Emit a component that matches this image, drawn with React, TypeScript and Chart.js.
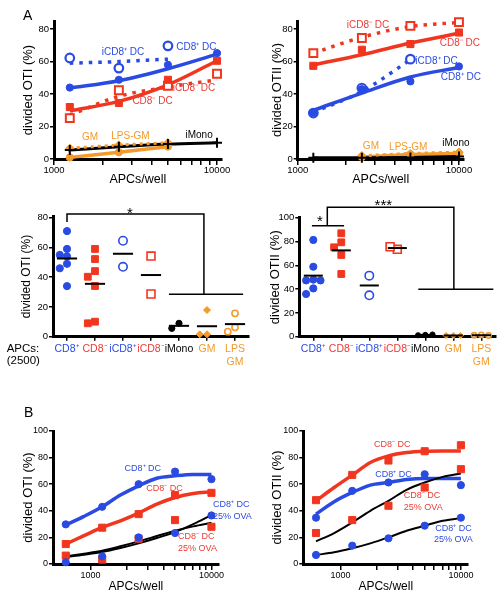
import React, { useEffect, useRef } from "react";
import { Chart, registerables } from "chart.js";
Chart.register(...registerables);

const W = 504, H = 600;
const FONT = "'Liberation Sans', Arial, Helvetica, sans-serif";
const BLUE = "#2a4be2", RED = "#f1361f", RED_T = "#ea3b36", ORANGE = "#f39a2c", BLACK = "#000000";

// ---------- Panel A (top): dose response, x = APCs/well ----------
const apcA = [1250, 2500, 5000, 10000];
const apcA3 = [1250, 2500, 5000];
const apcAgm = [2500, 5000, 10000];
const logTickValues = [1000, 2000, 3000, 4000, 5000, 6000, 7000, 8000, 9000, 10000];
const logLabelValues = [1000, 10000];

const oti_CD8p = [44, 48.8, 58, 65.2];
const oti_CD8p_fit = [43.7, 48.2, 55.6, 64.6];
const oti_CD8n = [32, 34.5, 48.8, 60.5];
const oti_CD8n_fit = [29.7, 35.5, 45.7, 60.5];
const oti_iCD8p = [62.2, 56, 69.7];
const oti_iCD8p_fit = [59, 60, 61.5];
const oti_iCD8n = [25.2, 42.3, 45.1, 52.5];
const oti_iCD8n_fit = [27, 38.6, 44.3, 48.8];
const oti_iMono = [5.5, 7.5, 9.2, 10];
const oti_GM = [1, 4.1, 7.6];
const oti_LPSGM = [6.6, 8.6, 10];

const otii_CD8n = [57.4, 67.3, 70.8, 77.9];
const otii_CD8n_fit = [58, 64.2, 71.4, 77.5];
const otii_iCD8n = [65.2, 74.5, 82, 84.3];
const otii_iCD8n_fit = [65.2, 75, 81.6, 84.1];
const otii_CD8p = [28.7, 43, 47.8, 57];
const otii_CD8p_fit = [30, 40.6, 50.5, 56.4];
const otii_iCD8p = [28.3, 43.7, 61.5];
const otii_iCD8p_fit = [28.7, 41.6, 61.1];
const otii_iMono = [0.8, 0.8, 1, 1.5];
const otii_GM = [1.2, 2.8, 3.5];
const otii_LPSGM = [2, 3.4, 4.2];

// ---------- Panel A (middle): APCs 2500, scatter dot plots ----------
const dotCats: (string | string[])[] = ["CD8⁺", "CD8⁻", "iCD8⁺", "iCD8⁻", "iMono", "GM", ["LPS", "GM"]];
const dotColors = [BLUE, RED_T, BLUE, RED_T, BLACK, ORANGE, ORANGE];
const otiDots = [
  [71, 59, 55, 54, 49, 46, 34],
  [59, 52.2, 44.1, 40.3, 34.1, 10.1, 9],
  [64.5, 47],
  [54.2, 28.7],
  [9, 5.6],
  [17.9, 1.6, 1.6],
  [15.7, 6.3, 3.4],
];
const otiiDots = [
  [81.3, 58.8, 48, 47.3, 47.3, 40.6, 35.9],
  [86.9, 79.3, 75.1, 68.7, 52.7],
  [51.3, 34.8],
  [73.4, 75.6],
  [1.5, 1.2, 1.8],
  [1, 1, 1],
  [1.5, 1.2, 1],
];

// ---------- Panel B: dose response incl. 25% OVA ----------
const apcB = [625, 1250, 2500, 5000, 10000];
const apcFit = [625, 884, 1250, 1768, 2500, 3536, 5000, 7071, 10000];
const bOTI_CD8p = [29.8, 43, 60, 69.5, 63.8];
const bOTI_CD8n = [15, 27.3, 37.5, 51.8, 53.5];
const bOTI_CD8p25 = [1.3, 5.8, 20, 23.3, 36.5];
const bOTI_CD8n25 = [6.3, 3.3, 19, 33, 28];
const bOTI_CD8p_fit = [29.3, 35.8, 43, 51.8, 58.8, 64.5, 66.3, 67.3, 67.3];
const bOTI_CD8n_fit = [15, 21.3, 27.5, 32.5, 38.3, 45, 50, 53, 54.3];
const bOTI_CD8p25_fit = [5.3, 7, 9, 12, 15.5, 19.5, 24, 30, 36.8];
const bOTI_CD8n25_fit = [5.8, 7.8, 10, 13.3, 17, 21, 25, 28.3, 31];

const bOTII_CD8n = [48, 67, 77.8, 84.8, 89.3];
const bOTII_CD8p = [34.8, 55, 61.3, 67.5, 59.3];
const bOTII_CD8n25 = [23.3, 33, 43.8, 57.5, 71.3];
const bOTII_CD8p25 = [6.8, 13.8, 19.3, 28.8, 34.8];
const bOTII_CD8n_fit = [47.5, 57.5, 66.8, 76.3, 81.3, 83.8, 84.8, 85, 85];
const bOTII_CD8p_fit = [37.5, 46.8, 53.8, 59.3, 61.3, 63.5, 64.3, 64.3, 64.3];
const bOTII_CD8n25_fit = [17, 23.3, 31.3, 40, 47.5, 55.8, 61.3, 65.5, 68];
const bOTII_CD8p25_fit = [6.8, 8.8, 11.8, 15.5, 20, 25, 28.8, 32.5, 34.5];

const yTicks80 = [0, 20, 40, 60, 80];
const yTicks100 = [0, 20, 40, 60, 80, 100];

// ---------- helpers ----------
const pairs = (xs: number[], ys: number[]) => ys.map((y, i) => ({ x: xs[i], y }));

function pts(data: any[], color: string, style: string, r: number, open = false, bw?: number) {
  return {
    data, showLine: false, clip: false,
    pointStyle: style, pointRadius: r, pointHoverRadius: r,
    pointBackgroundColor: open ? "#ffffff" : color, pointBorderColor: color,
    pointBorderWidth: bw ?? (open ? 2 : 1),
  };
}
function curve(data: any[], color: string, width: number, dash: number[] = []) {
  return {
    data, showLine: true, clip: false, pointRadius: 0, pointHoverRadius: 0,
    borderColor: color, borderWidth: width, borderDash: dash, backgroundColor: color,
    cubicInterpolationMode: "monotone", fill: false,
  };
}

function yAxis(max: number, ticks: number[], yW: number, title: string, titleSize: number, tickSize: number) {
  return {
    type: "linear", position: "left", min: 0, max,
    afterBuildTicks: (s: any) => { s.ticks = ticks.map((v) => ({ value: v })); },
    afterFit: (s: any) => { s.width = yW; },
    ticks: { font: { family: FONT, size: tickSize }, color: "#000", padding: 1 },
    grid: { drawOnChartArea: false, drawTicks: true, tickLength: 4, color: "#000", lineWidth: 1.5 },
    border: { display: true, color: "#000", width: 3 },
    title: { display: true, text: title, font: { family: FONT, size: titleSize }, color: "#000", padding: 0 },
  };
}
function logAxis(min: number, max: number, xH: number, titleSize: number, tickSize: number) {
  return {
    type: "logarithmic", position: "bottom", min, max,
    afterBuildTicks: (s: any) => { s.ticks = logTickValues.map((v) => ({ value: v, major: logLabelValues.includes(v) })); },
    afterFit: (s: any) => { s.height = xH; },
    ticks: {
      font: { family: FONT, size: tickSize }, color: "#000", padding: 0, autoSkip: false, maxRotation: 0,
      callback: (v: number) => (logLabelValues.includes(v) ? String(v) : ""),
    },
    grid: { drawOnChartArea: false, drawTicks: true, tickLength: 6, color: "#000", lineWidth: 1.5 },
    border: { display: true, color: "#000", width: 3 },
    title: { display: true, text: "APCs/well", font: { family: FONT, size: titleSize }, color: "#000", padding: 0 },
  };
}
function catAxis(xH: number) {
  return {
    type: "linear", position: "bottom", min: -0.5, max: dotCats.length - 0.5,
    afterBuildTicks: (s: any) => { s.ticks = dotCats.map((_, i) => ({ value: i })); },
    afterFit: (s: any) => { s.height = xH; },
    ticks: {
      font: { family: FONT, size: 10.5, lineHeight: 1.3 }, padding: 1.3, autoSkip: false, maxRotation: 0,
      color: (c: any) => dotColors[c.index] || "#000",
      callback: (v: number) => dotCats[Math.round(v)],
    },
    grid: { drawOnChartArea: false, drawTicks: true, tickLength: 4, color: "#000", lineWidth: 1.5 },
    border: { display: true, color: "#000", width: 3 },
  };
}

type Note = { x: number; y: number; lines: string[]; color: string; align?: CanvasTextAlign };
type Spec = {
  size: number; lh: number; notes?: Note[]; brackets?: number[][][];
  stars?: { x: number; y: number; text: string }[]; means?: { x: number; y: number; w: number }[];
};
function notesPlugin(spec: Spec) {
  return {
    id: "notes",
    afterDatasetsDraw(chart: any) {
      const { ctx } = chart;
      const xs = chart.scales.x, ys = chart.scales.y;
      const X = (v: number) => xs.getPixelForValue(v), Y = (v: number) => ys.getPixelForValue(v);
      ctx.save();
      ctx.strokeStyle = "#000";
      (spec.means || []).forEach((m) => {
        ctx.lineWidth = 2; ctx.beginPath();
        ctx.moveTo(X(m.x - m.w / 2), Y(m.y)); ctx.lineTo(X(m.x + m.w / 2), Y(m.y)); ctx.stroke();
      });
      (spec.brackets || []).forEach((pl) => {
        ctx.lineWidth = 1.5; ctx.beginPath();
        pl.forEach(([a, b], i) => (i ? ctx.lineTo(X(a), Y(b)) : ctx.moveTo(X(a), Y(b))));
        ctx.stroke();
      });
      ctx.textBaseline = "middle";
      (spec.stars || []).forEach((s) => {
        ctx.font = `15px ${FONT}`; ctx.fillStyle = "#000"; ctx.textAlign = "center";
        ctx.fillText(s.text, X(s.x), Y(s.y));
      });
      (spec.notes || []).forEach((n) => {
        ctx.font = `${spec.size}px ${FONT}`; ctx.fillStyle = n.color; ctx.textAlign = n.align || "center";
        n.lines.forEach((t, i) => ctx.fillText(t, X(n.x), Y(n.y) + i * spec.lh));
      });
      ctx.restore();
    },
  };
}

function cfg(area: number[], yW: number, xH: number, xScale: any, yScale: any, datasets: any[], spec: Spec) {
  return {
    type: "scatter",
    data: { datasets },
    options: {
      responsive: false, animation: false, events: [],
      layout: { padding: { left: area[0] - yW, top: area[1], right: W - area[2], bottom: H - area[3] - xH } },
      scales: { x: xScale, y: yScale },
      plugins: { legend: { display: false }, tooltip: { enabled: false } },
    },
    plugins: [notesPlugin(spec)],
  };
}

function swarm(vals: number[], pxPerVal: number, pxPerCat: number, diam: number, step: number) {
  const placed: { v: number; o: number }[] = [];
  return vals.map((v) => {
    for (let k = 0; k < 30; k++) {
      const o = (k === 0 ? 0 : (k % 2 ? -1 : 1) * Math.ceil(k / 2)) * step;
      if (placed.every((p) => Math.hypot((p.v - v) * pxPerVal, p.o - o) >= diam)) {
        placed.push({ v, o });
        return o / pxPerCat;
      }
    }
    return 0;
  });
}
const mean = (a: number[]) => a.reduce((s, v) => s + v, 0) / a.length;

function dotDatasets(groups: number[][], pxPerVal: number, small: number) {
  const styles = [
    { c: BLUE, s: "circle", r: 3.6, open: false },
    { c: RED, s: "rect", r: 4.8, open: false },
    { c: BLUE, s: "circle", r: 4.2, open: true },
    { c: RED, s: "rect", r: 5.6, open: true },
    { c: BLACK, s: "circle", r: small, open: false },
    { c: ORANGE, s: "rectRot", r: small + 0.4, open: false },
    { c: ORANGE, s: "circle", r: small, open: true },
  ];
  return groups.map((g, i) => {
    const offs = swarm(g, pxPerVal, 28, 7.2, 3.6);
    const st = styles[i];
    return pts(g.map((v, j) => ({ x: i + offs[j], y: v })), st.c, st.s, st.r, st.open, st.open ? 1.6 : 1);
  });
}

// ---------- chart builders ----------
function buildP1() {
  const area = [54, 21, 221.8, 159];
  const ds = [
    pts(pairs(apcA, oti_iMono), BLACK, "cross", 5, false, 2),
    pts(pairs(apcA3, oti_LPSGM), ORANGE, "rectRot", 4.2),
    pts(pairs(apcA3, oti_GM), ORANGE, "circle", 3.6),
    pts(pairs(apcA, oti_CD8p), BLUE, "circle", 3.6),
    pts(pairs(apcA3, oti_iCD8p), BLUE, "circle", 4.3, true, 2.2),
    pts(pairs(apcA, oti_CD8n), RED, "rect", 5),
    pts(pairs(apcA, oti_iCD8n), RED, "rect", 5.6, true, 2),
    curve(pairs(apcA3, oti_LPSGM), ORANGE, 3, [3, 4]),
    curve(pairs(apcA, oti_iMono), BLACK, 3),
    curve(pairs(apcA3, oti_GM), ORANGE, 3.5),
    curve(pairs(apcA, oti_CD8p_fit), BLUE, 3.5),
    curve(pairs(apcA3, oti_iCD8p_fit), BLUE, 3.5, [3.5, 6]),
    curve(pairs(apcA, oti_CD8n_fit), RED, 3.5),
    curve(pairs(apcA, oti_iCD8n_fit), RED, 3.5, [3.5, 6]),
  ];
  return cfg(area, 33.8, 28.5, logAxis(1000, 10700, 28.5, 12.5, 9.5), yAxis(85, yTicks80, 33.8, "divided OTI (%)", 13, 9.5), ds, {
    size: 10, lh: 12,
    notes: [
      { x: 2650, y: 65.7, lines: ["iCD8⁺ DC"], color: BLUE },
      { x: 7480, y: 69.1, lines: ["CD8⁺ DC"], color: BLUE },
      { x: 7230, y: 43.5, lines: ["iCD8⁻ DC"], color: RED_T },
      { x: 4020, y: 35.3, lines: ["CD8⁻ DC"], color: RED_T },
      { x: 1664, y: 13.7, lines: ["GM"], color: ORANGE },
      { x: 2944, y: 14.2, lines: ["LPS-GM"], color: ORANGE },
      { x: 7765, y: 14.8, lines: ["iMono"], color: BLACK },
    ],
  });
}
function buildP2() {
  const area = [297.7, 21, 463.7, 159];
  const ds = [
    pts(pairs(apcA, otii_iMono), BLACK, "cross", 5, false, 2),
    pts(pairs(apcAgm, otii_LPSGM), ORANGE, "rectRot", 4.2),
    pts(pairs(apcAgm, otii_GM), ORANGE, "circle", 3.6),
    pts(pairs(apcA, otii_CD8p), BLUE, "circle", 3.6),
    pts(pairs(apcA3, otii_iCD8p), BLUE, "circle", 4.3, true, 2.2),
    pts(pairs(apcA, otii_CD8n), RED, "rect", 5),
    pts(pairs(apcA, otii_iCD8n), RED, "rect", 5.6, true, 2),
    curve(pairs(apcAgm, otii_LPSGM), ORANGE, 3, [3, 4]),
    curve(pairs(apcA, otii_iMono), BLACK, 3),
    curve(pairs(apcAgm, otii_GM), ORANGE, 3.5),
    curve(pairs(apcA, otii_CD8p_fit), BLUE, 3.5),
    curve(pairs(apcA3, otii_iCD8p_fit), BLUE, 3.5, [3.5, 6]),
    curve(pairs(apcA, otii_CD8n_fit), RED, 3.5),
    curve(pairs(apcA, otii_iCD8n_fit), RED, 3.5, [3.5, 6]),
  ];
  return cfg(area, 28.5, 28.5, logAxis(1000, 10700, 28.5, 12.5, 9.5), yAxis(85, yTicks80, 28.5, "divided OTII (%)", 13, 9.5), ds, {
    size: 10, lh: 12,
    notes: [
      { x: 2730, y: 82.5, lines: ["iCD8⁻ DC"], color: RED_T },
      { x: 10140, y: 71.6, lines: ["CD8⁻ DC"], color: RED_T },
      { x: 7260, y: 60.5, lines: ["iCD8⁺ DC"], color: BLUE },
      { x: 10280, y: 50.3, lines: ["CD8⁺ DC"], color: BLUE },
      { x: 2845, y: 7.6, lines: ["GM"], color: ORANGE },
      { x: 4850, y: 7.4, lines: ["LPS-GM"], color: ORANGE },
      { x: 9570, y: 9.7, lines: ["iMono"], color: BLACK },
    ],
  });
}
function buildP3() {
  const area = [53, 216.2, 249, 336.7];
  return cfg(area, 33.5, 40, catAxis(40), yAxis(81, yTicks80, 33.5, "divided OTI (%)", 12, 9.5), dotDatasets(otiDots, 1.4875, 3.1), {
    size: 10, lh: 12,
    means: otiDots.map((g, i) => ({ x: i, y: mean(g), w: 0.72 })),
    brackets: [
      [[0, 77.1], [0, 82.5], [4.89, 82.5], [4.89, 28.5]],
      [[3.64, 28.5], [6.29, 28.5]],
    ],
    stars: [{ x: 2.25, y: 82.5, text: "*" }],
  });
}
function buildP4() {
  const area = [299.3, 217.7, 495.3, 336.7];
  return cfg(area, 32.1, 40, catAxis(40), yAxis(100, yTicks100, 32.1, "divided OTII (%)", 13, 9.5), dotDatasets(otiiDots, 1.19, 2.6), {
    size: 10, lh: 12,
    means: otiiDots.map((g, i) => ({ x: i, y: mean(g), w: 0.68 })),
    brackets: [
      [[-0.05, 93.3], [1.1, 93.3]],
      [[0.5, 93.3], [0.5, 108.7], [5.02, 108.7], [5.02, 39.8]],
      [[3.75, 39.8], [6.43, 39.8]],
    ],
    stars: [
      { x: 0.24, y: 96.5, text: "*" },
      { x: 2.5, y: 110, text: "***" },
    ],
  });
}
function buildP5() {
  const area = [53, 431, 218.8, 564];
  const ds = [
    pts(pairs(apcB, bOTI_CD8p), BLUE, "circle", 3.6),
    pts(pairs(apcB, bOTI_CD8n), RED, "rect", 5),
    pts(pairs(apcB, bOTI_CD8p25), BLUE, "circle", 3.6),
    pts(pairs(apcB, bOTI_CD8n25), RED, "rect", 5),
    curve(pairs(apcFit, bOTI_CD8p25_fit), BLACK, 2),
    curve(pairs(apcFit, bOTI_CD8n25_fit), BLACK, 2),
    curve(pairs(apcFit, bOTI_CD8n_fit), RED, 3.5),
    curve(pairs(apcFit, bOTI_CD8p_fit), BLUE, 3.5),
  ];
  return cfg(area, 32.5, 29.9, logAxis(490, 11500, 29.9, 12, 9), yAxis(100, yTicks100, 32.5, "divided OTI (%)", 13, 9), ds, {
    size: 9, lh: 12.5,
    notes: [
      { x: 2705, y: 71.9, lines: ["CD8⁺ DC"], color: BLUE },
      { x: 4085, y: 56.9, lines: ["CD8⁻ DC"], color: RED_T },
      { x: 10300, y: 44.9, lines: ["CD8⁺ DC", "25% OVA"], color: BLUE, align: "left" },
      { x: 5300, y: 21, lines: ["CD8⁻ DC", "25% OVA"], color: RED_T, align: "left" },
    ],
  });
}
function buildP6() {
  const area = [303.3, 431, 468.2, 564];
  const ds = [
    pts(pairs(apcB, bOTII_CD8n), RED, "rect", 5),
    pts(pairs(apcB, bOTII_CD8p), BLUE, "circle", 3.6),
    pts(pairs(apcB, bOTII_CD8n25), RED, "rect", 5),
    pts(pairs(apcB, bOTII_CD8p25), BLUE, "circle", 3.6),
    curve(pairs(apcFit, bOTII_CD8n25_fit), BLACK, 2),
    curve(pairs(apcFit, bOTII_CD8p25_fit), BLACK, 2),
    curve(pairs(apcFit, bOTII_CD8p_fit), BLUE, 3.5),
    curve(pairs(apcFit, bOTII_CD8n_fit), RED, 3.5),
  ];
  return cfg(area, 34.1, 29.9, logAxis(490, 11500, 29.9, 12, 9), yAxis(100, yTicks100, 34.1, "divided OTII (%)", 13, 9), ds, {
    size: 9, lh: 11.5,
    notes: [
      { x: 2686, y: 89.5, lines: ["CD8⁻ DC"], color: RED_T },
      { x: 2750, y: 67.4, lines: ["CD8⁺ DC"], color: BLUE },
      { x: 3357, y: 51.4, lines: ["CD8⁻ DC", "25% OVA"], color: RED_T, align: "left" },
      { x: 8670, y: 26.8, lines: ["CD8⁺ DC", "25% OVA"], color: BLUE },
    ],
  });
}

function ChartLayer({ build }: { build: () => any }) {
  const ref = useRef<HTMLCanvasElement | null>(null);
  useEffect(() => {
    const chart = new Chart(ref.current as HTMLCanvasElement, build());
    return () => chart.destroy();
  }, [build]);
  return (
    <canvas ref={ref} width={W} height={H}
      style={{ position: "absolute", left: 0, top: 0, width: W, height: H }} />
  );
}

const txt = (left: number, top: number, size: number, s: string) => (
  <div style={{ position: "absolute", left, top, fontSize: size, lineHeight: `${size}px`, fontFamily: FONT, color: "#000", whiteSpace: "nowrap" }}>{s}</div>
);

const builders = [buildP1, buildP2, buildP3, buildP4, buildP5, buildP6];

export default function App() {
  return (
    <div style={{ position: "absolute", left: 0, top: 0, width: W, height: H, background: "#fff", overflow: "hidden" }}>
      {builders.map((b, i) => <ChartLayer key={i} build={b} />)}
      {txt(23, 8, 14, "A")}
      {txt(24, 404.8, 14, "B")}
      {txt(6.7, 342.7, 11.5, "APCs:")}
      {txt(6.7, 355.4, 11.5, "(2500)")}
    </div>
  );
}
